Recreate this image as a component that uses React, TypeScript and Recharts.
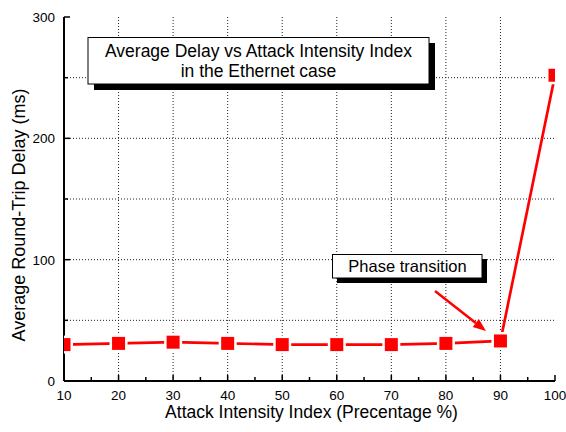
import React from "react";
import { LineChart, Line, XAxis, YAxis, CartesianGrid } from "recharts";

const attackIndex = [10, 20, 30, 40, 50, 60, 70, 80, 90, 100];
const avgDelay = [30, 31, 32, 31, 30, 30, 30, 31, 33, 252];
const xTicks = [10, 15, 20, 25, 30, 35, 40, 45, 50, 55, 60, 65, 70, 75, 80, 85, 90, 95, 100];
const yTicks = [0, 50, 100, 150, 200, 250, 300];
const xLabeled = [10, 20, 30, 40, 50, 60, 70, 80, 90, 100];
const yLabeled = [0, 100, 200, 300];
const gridX = [20, 30, 40, 50, 60, 70, 80, 90];
const gridY = [50, 100, 150, 200, 250];

const titleLines = ["Average Delay vs Attack Intensity Index", "in the Ethernet case"];
const annotation = "Phase transition";
const xLabel = "Attack Intensity Index (Precentage %)";
const yLabel = "Average Round-Trip Delay (ms)";

const data = attackIndex.map((x, i) => ({ x, delay: avgDelay[i] }));

const FONT = "'Liberation Sans', Arial, sans-serif";

const BottomTick = (props: any) => {
  const { x, y, payload } = props;
  const v = payload.value;
  const major = xLabeled.includes(v);
  return (
    <g>
      <line x1={x} x2={x} y1={y} y2={y - (major ? 6 : 4)} stroke="#000" strokeWidth={1.5} />
      {major && (
        <text x={x} y={y + 18.5} textAnchor="middle" fontSize={13.5} fontFamily={FONT} fill="#000">
          {v}
        </text>
      )}
    </g>
  );
};

const TopTick = (props: any) => {
  const { x, y, payload } = props;
  const major = xLabeled.includes(payload.value);
  return <line x1={x} x2={x} y1={y} y2={y + (major ? 6 : 4)} stroke="#000" strokeWidth={1.5} />;
};

const LeftTick = (props: any) => {
  const { x, y, payload } = props;
  const v = payload.value;
  const major = yLabeled.includes(v);
  return (
    <g>
      <line x1={x} x2={x + (major ? 6 : 4)} y1={y} y2={y} stroke="#000" strokeWidth={1.5} />
      {major && (
        <text x={x - 9} y={y + 5} textAnchor="end" fontSize={13.5} fontFamily={FONT} fill="#000">
          {v}
        </text>
      )}
    </g>
  );
};

const RightTick = (props: any) => {
  const { x, y, payload } = props;
  const major = yLabeled.includes(payload.value);
  return <line x1={x} x2={x - (major ? 6 : 4)} y1={y} y2={y} stroke="#000" strokeWidth={1.5} />;
};

const SquareDot = (props: any) => {
  const { cx, cy, index } = props;
  if (cx == null || cy == null) return null;
  return (
    <g key={`dot-${index}`}>
      <rect x={cx - 9} y={cy - 9} width={18} height={18} fill="#fff" />
      <rect x={cx - 6.5} y={cy - 6.5} width={13} height={13} fill="#ff0000" />
    </g>
  );
};

export default function App() {
  const sx = 435, sy = 291, tx = 486, ty = 331;
  const len = Math.hypot(tx - sx, ty - sy);
  const ux = (tx - sx) / len, uy = (ty - sy) / len;
  const hl = 13, hw = 5;
  const bx = tx - ux * hl, by = ty - uy * hl;
  const p1 = `${tx},${ty} ${bx - uy * hw},${by + ux * hw} ${bx + uy * hw},${by - ux * hw}`;

  return (
    <div style={{ position: "absolute", left: 0, top: 0, width: 566, height: 432, background: "#fff" }}>
      <LineChart
        width={566}
        height={432}
        data={data}
        margin={{ top: 17, right: 11, left: 0, bottom: 0 }}
      >
        <CartesianGrid
          stroke="#222"
          strokeDasharray="1 2"
          strokeWidth={1}
          verticalValues={gridX}
          horizontalValues={gridY}
        />
        <XAxis
          dataKey="x"
          type="number"
          domain={[10, 100]}
          ticks={xTicks}
          interval={0}
          height={51}
          tickSize={0}
          tickMargin={0}
          tickLine={false}
          tick={<BottomTick />}
          axisLine={{ stroke: "#000", strokeWidth: 2 }}
          allowDataOverflow
        />
        <XAxis
          xAxisId="top"
          orientation="top"
          dataKey="x"
          type="number"
          domain={[10, 100]}
          ticks={xTicks}
          interval={0}
          height={0}
          tickSize={0}
          tickMargin={0}
          tickLine={false}
          tick={<TopTick />}
          axisLine={{ stroke: "#000", strokeWidth: 2 }}
          allowDataOverflow
        />
        <YAxis
          type="number"
          domain={[0, 300]}
          ticks={yTicks}
          interval={0}
          width={64}
          tickSize={0}
          tickMargin={0}
          tickLine={false}
          tick={<LeftTick />}
          axisLine={{ stroke: "#000", strokeWidth: 2 }}
          allowDataOverflow
        />
        <YAxis
          yAxisId="right"
          orientation="right"
          type="number"
          domain={[0, 300]}
          ticks={yTicks}
          interval={0}
          width={0}
          tickSize={0}
          tickMargin={0}
          tickLine={false}
          tick={<RightTick />}
          axisLine={{ stroke: "#000", strokeWidth: 2 }}
          allowDataOverflow
        />
        <Line
          dataKey="delay"
          stroke="#ff0000"
          strokeWidth={2.7}
          dot={<SquareDot />}
          activeDot={false}
          isAnimationActive={false}
        />
      </LineChart>
      <svg
        width={566}
        height={432}
        style={{ position: "absolute", left: 0, top: 0, pointerEvents: "none" }}
      >
        <text
          transform="translate(25,215) rotate(-90)"
          textAnchor="middle"
          fontSize={18}
          fontFamily={FONT}
          fill="#000"
        >
          {yLabel}
        </text>
        <text x={311.5} y={418} textAnchor="middle" fontSize={17.5} fontFamily={FONT} fill="#000">
          {xLabel}
        </text>
        <rect x={94} y={43} width={341} height={47} fill="#000" />
        <rect x={88} y={37.5} width={341} height={46.5} fill="#fff" stroke="#000" strokeWidth={1} />
        <text x={258.5} y={56.5} textAnchor="middle" fontSize={17.5} fontFamily={FONT} fill="#000">
          {titleLines[0]}
        </text>
        <text x={258.5} y={77} textAnchor="middle" fontSize={17.5} fontFamily={FONT} fill="#000">
          {titleLines[1]}
        </text>
        <rect x={337} y={259} width={150} height={24} fill="#000" />
        <rect x={332.5} y={254.5} width={149.5} height={23.5} fill="#fff" stroke="#000" strokeWidth={1} />
        <text x={407.5} y={271.5} textAnchor="middle" fontSize={16.5} fontFamily={FONT} fill="#000">
          {annotation}
        </text>
        <line x1={sx} y1={sy} x2={bx} y2={by} stroke="#ff0000" strokeWidth={2.5} />
        <polygon points={p1} fill="#ff0000" />
      </svg>
    </div>
  );
}
